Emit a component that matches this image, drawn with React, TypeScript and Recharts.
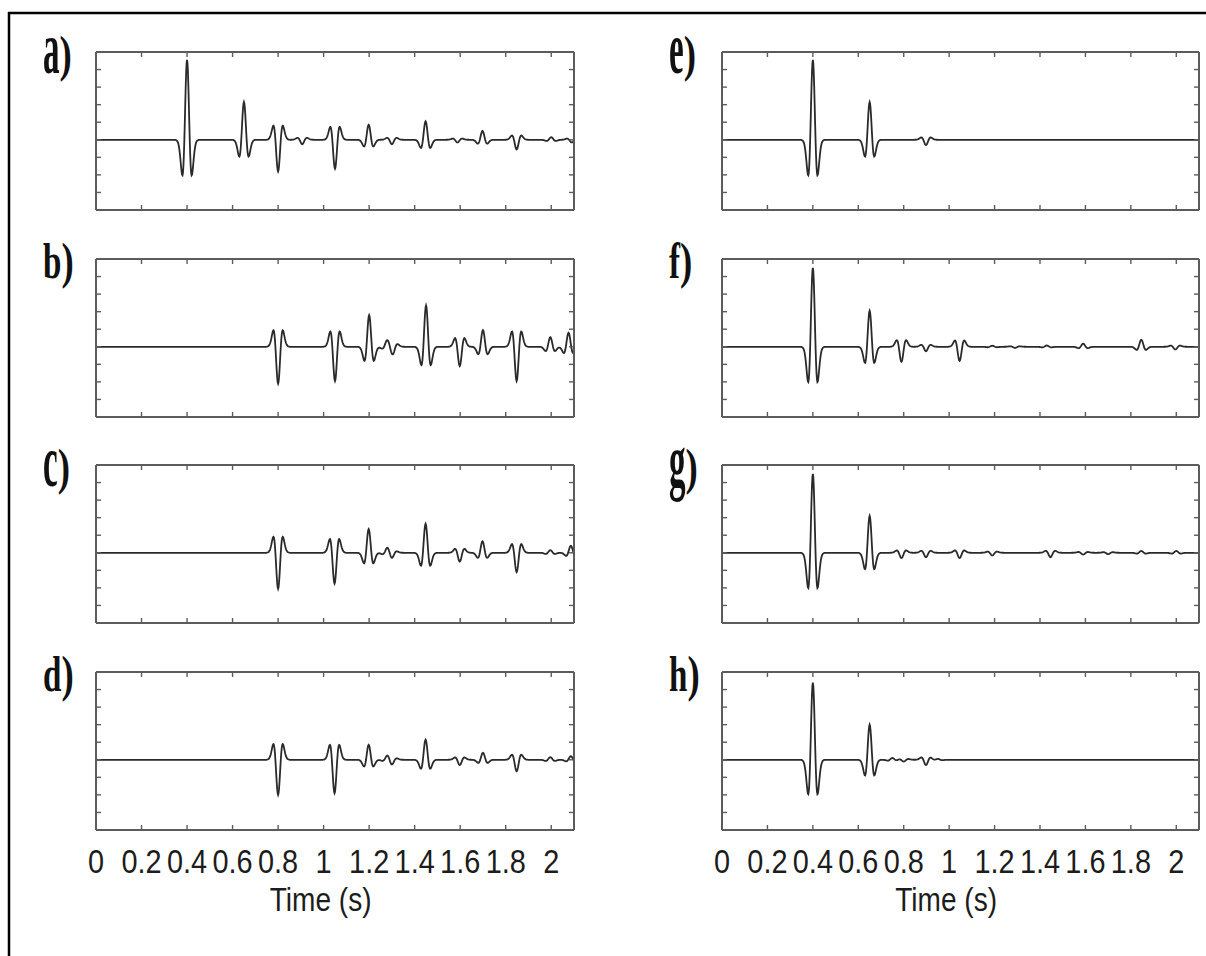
import React from 'react';
import { LineChart, Line, XAxis, YAxis } from 'recharts';

// ---- sampling / axes ----
const TIME_STEP = 0.002;
const TIME_END = 2.1;
const X_TICKS = [0, 0.2, 0.4, 0.6, 0.8, 1, 1.2, 1.4, 1.6, 1.8, 2];
const X_TICK_LABELS = ['0', '0.2', '0.4', '0.6', '0.8', '1', '1.2', '1.4', '1.6', '1.8', '2'];
const Y_TICKS = [-0.8, -0.6, -0.4, -0.2, 0, 0.2, 0.4, 0.6, 0.8, 1.0];
const Y_DOMAIN: [number, number] = [-0.8, 1.0];

// zero-phase source pulse, one side (2 ms samples, centre first)
const WAVELET_HALF = [
  1, 0.958, 0.837, 0.654, 0.433, 0.201, -0.016, -0.197, -0.331, -0.413, -0.445, -0.437, -0.399,
  -0.343, -0.281, -0.219, -0.164, -0.118, -0.081, -0.054, -0.035, -0.022, -0.013, -0.008, -0.005, -0.002,
];

// reflection events per trace: [time (s), amplitude]
const EVENTS_A: [number, number][] = [
  [0.4, 0.91], [0.65, 0.43], [0.8, -0.36], [0.905, -0.05], [1.05, -0.33], [1.197, 0.17],
  [1.3, -0.05], [1.447, 0.21], [1.588, -0.03], [1.697, 0.1], [1.848, -0.11], [2.0, 0.03], [2.09, -0.03],
];
const EVENTS_B: [number, number][] = [
  [0.8, -0.42], [1.05, -0.39], [1.2, 0.36], [1.277, 0.05], [1.303, -0.07], [1.45, 0.47],
  [1.597, -0.22], [1.699, 0.19], [1.848, -0.39], [1.995, 0.11], [2.075, 0.16],
];
const EVENTS_C: [number, number][] = [
  [0.8, -0.41], [1.048, -0.35], [1.197, 0.27], [1.28, 0.04], [1.3, -0.04], [1.447, 0.33],
  [1.597, -0.1], [1.697, 0.13], [1.848, -0.22], [1.995, 0.03], [2.085, 0.08],
];
const EVENTS_D: [number, number][] = [
  [0.8, -0.4], [1.048, -0.38], [1.197, 0.17], [1.28, 0.03], [1.3, -0.04], [1.447, 0.23],
  [1.597, -0.06], [1.699, 0.08], [1.848, -0.13], [1.995, 0.03], [2.085, 0.04],
];
const EVENTS_E: [number, number][] = [
  [0.4, 0.91], [0.65, 0.43], [0.898, -0.06],
];
const EVENTS_F: [number, number][] = [
  [0.4, 0.9], [0.65, 0.41], [0.79, -0.17], [0.898, -0.05], [1.046, -0.16], [1.19, 0.012],
  [1.29, -0.012], [1.43, 0.015], [1.59, 0.035], [1.845, 0.08], [1.995, -0.03],
];
const EVENTS_G: [number, number][] = [
  [0.4, 0.9], [0.65, 0.42], [0.79, -0.06], [0.898, -0.05], [1.046, -0.06], [1.19, -0.03],
  [1.445, -0.05], [1.59, -0.02], [1.7, -0.015], [1.845, 0.02], [2.0, 0.02],
];
const EVENTS_H: [number, number][] = [
  [0.4, 0.88], [0.65, 0.4], [0.75, 0.02], [0.8, -0.02], [0.898, -0.06], [0.95, 0.01],
];

type Pt = { t: number; v: number };

// superpose the source pulse at every event time
function buildTrace(events: [number, number][]): Pt[] {
  const n = Math.round(TIME_END / TIME_STEP);
  const vals = new Array(n + 1).fill(0);
  const w = WAVELET_HALF.length;
  for (const [t, amp] of events) {
    const c = Math.round(t / TIME_STEP);
    for (let k = -(w - 1); k <= w - 1; k++) {
      const i = c + k;
      if (i >= 0 && i <= n) vals[i] += amp * WAVELET_HALF[Math.abs(k)];
    }
  }
  return vals.map((v, i) => ({ t: +(i * TIME_STEP).toFixed(4), v }));
}

const FRAME = '#5c5c5c';
const TRACE = '#2a2a2a';
const TEXT = '#1c1c1c';
const TICK_LEN = 5;
const PLOT_H = 158;
const ROW_TOPS = [52, 259, 465, 672];
const COLS = [
  { left: 96, width: 478 },
  { left: 722, width: 477 },
];
const AXIS_SIZE = 2;

function makeBottomTick(showLabels: boolean) {
  return (props: any) => {
    const { x, y, payload, index } = props;
    return (
      <g>
        <line x1={x} y1={y} x2={x} y2={y - TICK_LEN} stroke={FRAME} strokeWidth={1.4} />
        {showLabels && (
          <text
            transform={`translate(${x},${y + 43}) scale(0.85,1)`}
            textAnchor="middle"
            fontSize={34}
            fontFamily="'Liberation Sans', Arial, sans-serif"
            fill={TEXT}
          >
            {X_TICK_LABELS[index] ?? String(payload.value)}
          </text>
        )}
      </g>
    );
  };
}
const TopTick = (props: any) => (
  <line x1={props.x} y1={props.y} x2={props.x} y2={props.y + TICK_LEN} stroke={FRAME} strokeWidth={1.4} />
);
const LeftTick = (props: any) => (
  <line x1={props.x} y1={props.y} x2={props.x + TICK_LEN} y2={props.y} stroke={FRAME} strokeWidth={1.4} />
);
const RightTick = (props: any) => (
  <line x1={props.x} y1={props.y} x2={props.x - TICK_LEN} y2={props.y} stroke={FRAME} strokeWidth={1.4} />
);
const BottomTickLabelled = makeBottomTick(true);
const BottomTickPlain = makeBottomTick(false);

function TracePanel({ events, left, top, width, showLabels }: {
  events: [number, number][]; left: number; top: number; width: number; showLabels: boolean;
}) {
  const m = 12;
  const mb = showLabels ? 70 : m;
  const data = React.useMemo(() => buildTrace(events), [events]);
  const axisLine = { stroke: FRAME, strokeWidth: 2 };
  return (
    <div style={{ position: 'absolute', left: left - m, top: top - m }}>
      <LineChart
        width={width + 2 * m}
        height={PLOT_H + m + mb}
        data={data}
        margin={{ top: m - AXIS_SIZE, right: m - AXIS_SIZE, bottom: mb - AXIS_SIZE, left: m - AXIS_SIZE }}
      >
        <XAxis
          xAxisId="b" dataKey="t" type="number" domain={[0, TIME_END]} allowDataOverflow
          ticks={X_TICKS} interval={0} height={AXIS_SIZE} tickSize={0} tickMargin={0}
          axisLine={axisLine} tickLine={false} tick={showLabels ? BottomTickLabelled : BottomTickPlain}
        />
        <XAxis
          xAxisId="t" orientation="top" dataKey="t" type="number" domain={[0, TIME_END]} allowDataOverflow
          ticks={X_TICKS} interval={0} height={AXIS_SIZE} tickSize={0} tickMargin={0}
          axisLine={axisLine} tickLine={false} tick={TopTick}
        />
        <YAxis
          yAxisId="l" type="number" domain={Y_DOMAIN} allowDataOverflow
          ticks={Y_TICKS} interval={0} width={AXIS_SIZE} tickSize={0} tickMargin={0}
          axisLine={axisLine} tickLine={false} tick={LeftTick}
        />
        <YAxis
          yAxisId="r" orientation="right" type="number" domain={Y_DOMAIN} allowDataOverflow
          ticks={Y_TICKS} interval={0} width={AXIS_SIZE} tickSize={0} tickMargin={0}
          axisLine={axisLine} tickLine={false} tick={RightTick}
        />
        <Line
          xAxisId="b" yAxisId="l" dataKey="v" type="linear" dot={false}
          stroke={TRACE} strokeWidth={1.8} isAnimationActive={false}
        />
      </LineChart>
    </div>
  );
}

const LETTER_W: Record<string, number> = { a: 0.5, b: 0.556, c: 0.444, d: 0.556, e: 0.444, f: 0.333, g: 0.5, h: 0.556 };
const SHORT_LETTERS = 'aceg';

function PanelTag({ letter, x, y }: { letter: string; x: number; y: number }) {
  const fs = 46;
  const sx = 0.72;
  const short = SHORT_LETTERS.includes(letter);
  const lw = LETTER_W[letter] * fs * sx;
  return (
    <g fill="#111" fontFamily="'Liberation Serif', 'Times New Roman', serif" fontWeight="bold" fontSize={fs}>
      <text transform={`translate(${x},${y + (short ? 2 : 0)}) scale(${sx},${short ? 1.6 : 1.08})`}>{letter}</text>
      <text transform={`translate(${x + lw},${y}) scale(0.8,1.1)`}>)</text>
    </g>
  );
}

const PANELS = [
  { tag: 'a', events: EVENTS_A, col: 0, row: 0 },
  { tag: 'b', events: EVENTS_B, col: 0, row: 1 },
  { tag: 'c', events: EVENTS_C, col: 0, row: 2 },
  { tag: 'd', events: EVENTS_D, col: 0, row: 3 },
  { tag: 'e', events: EVENTS_E, col: 1, row: 0 },
  { tag: 'f', events: EVENTS_F, col: 1, row: 1 },
  { tag: 'g', events: EVENTS_G, col: 1, row: 2 },
  { tag: 'h', events: EVENTS_H, col: 1, row: 3 },
];

export default function App() {
  return (
    <div style={{ position: 'absolute', left: 0, top: 0, width: 1206, height: 956, background: '#fff', overflow: 'hidden' }}>
      {PANELS.map((p) => (
        <TracePanel
          key={p.tag}
          events={p.events}
          left={COLS[p.col].left}
          top={ROW_TOPS[p.row]}
          width={COLS[p.col].width}
          showLabels={p.row === 3}
        />
      ))}
      <svg width={1206} height={956} style={{ position: 'absolute', left: 0, top: 0, pointerEvents: 'none' }}>
        <line x1={8} y1={13} x2={1206} y2={13} stroke="#000" strokeWidth={2.5} />
        <line x1={9} y1={12} x2={9} y2={956} stroke="#000" strokeWidth={2.5} />
        {PANELS.map((p) => (
          <PanelTag key={p.tag} letter={p.tag} x={COLS[p.col].left - 53} y={ROW_TOPS[p.row] + 19} />
        ))}
        {COLS.map((c, i) => (
          <text
            key={i}
            transform={`translate(${c.left + (c.width * 1) / TIME_END - 3},${ROW_TOPS[3] + PLOT_H + 81}) scale(0.85,1)`}
            textAnchor="middle"
            fontSize={33}
            fontFamily="'Liberation Sans', Arial, sans-serif"
            fill={TEXT}
          >
            Time (s)
          </text>
        ))}
      </svg>
    </div>
  );
}
